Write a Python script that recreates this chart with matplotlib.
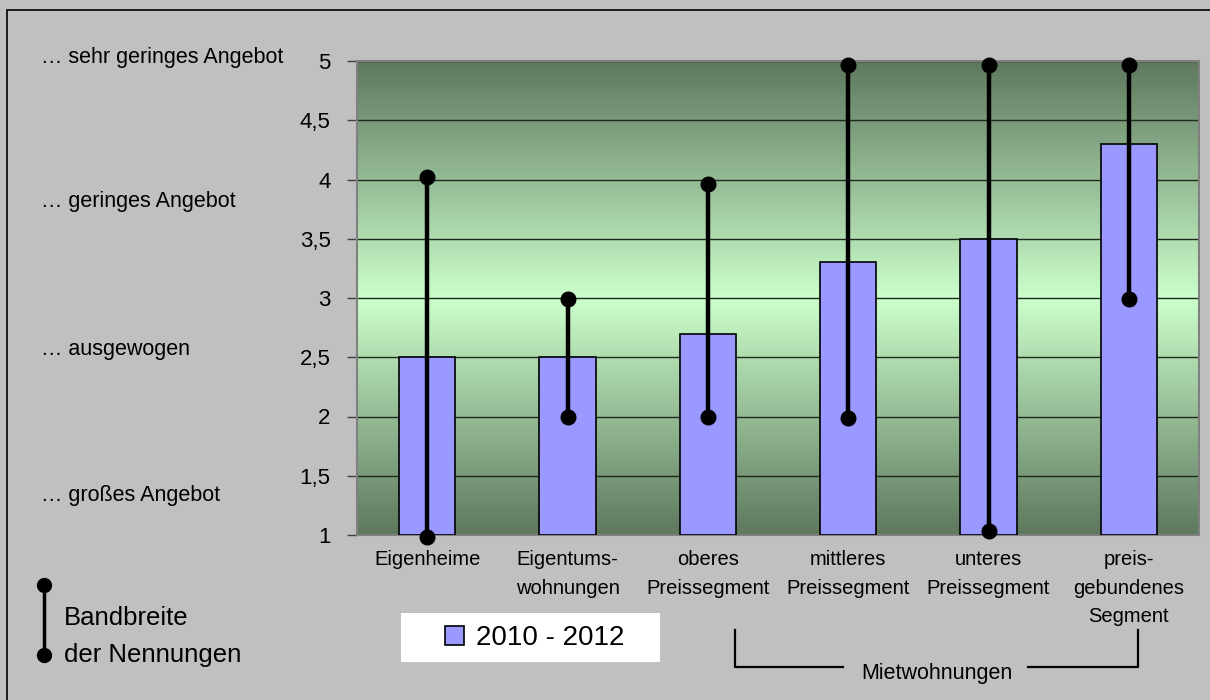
import numpy as np
import matplotlib
matplotlib.use("Agg")
import matplotlib.pyplot as plt
from matplotlib.lines import Line2D
from matplotlib.patches import Rectangle
from matplotlib.colors import LinearSegmentedColormap

plt.rcParams['font.family'] = ['Liberation Sans', 'DejaVu Sans']

# data
categories = ["Eigenheime", "Eigentums-\nwohnungen", "oberes\nPreissegment",
              "mittleres\nPreissegment", "unteres\nPreissegment",
              "preis-\ngebundenes\nSegment"]
mean_2010_2012 = [2.5, 2.5, 2.7, 3.3, 3.5, 4.3]
range_low = [0.98, 2.0, 2.0, 1.99, 1.03, 2.99]
range_high = [4.02, 2.99, 3.96, 4.97, 4.97, 4.97]
y_ticks = [1, 1.5, 2, 2.5, 3, 3.5, 4, 4.5, 5]
y_tick_labels = ["1", "1,5", "2", "2,5", "3", "3,5", "4", "4,5", "5"]
level_labels = ["… sehr geringes Angebot", "… geringes Angebot",
                "… ausgewogen", "… großes Angebot"]

W, H = 1210, 700
BG = "#c0c0c0"
BAR = "#9999ff"


def fx(x):
    return x / W


def fy(y):
    return 1 - y / H


fig = plt.figure(figsize=(W / 100, H / 100), dpi=100, facecolor=BG)

# outer frame
fig.add_artist(Rectangle((fx(7), fy(720)), fx(1230), fy(10) - fy(720),
                         transform=fig.transFigure, fill=False,
                         edgecolor="black", linewidth=1.2))

ax = fig.add_axes([fx(357), fy(535), fx(1199) - fx(357), fy(61) - fy(535)])
ax.set_facecolor(BG)

# green gradient background, dark at top/bottom and light in the middle
cmap = LinearSegmentedColormap.from_list("grn", ["#5e785e", "#ccffcc", "#5e785e"])
grad = np.linspace(0, 1, 256).reshape(-1, 1)
ax.imshow(grad, cmap=cmap, aspect="auto", extent=(-0.5, 5.5, 1, 5),
          origin="lower", zorder=0)

x = np.arange(len(categories))
bars = ax.bar(x, [v - 1 for v in mean_2010_2012], bottom=1, width=0.4,
              color=BAR, edgecolor="black", linewidth=1.2, zorder=3,
              label="2010 - 2012")

for xi, lo, hi in zip(x, range_low, range_high):
    ax.plot([xi, xi], [lo, hi], color="black", linewidth=3.2, zorder=4,
            solid_capstyle="butt")
    ax.plot([xi, xi], [lo, hi], "o", color="black", markersize=10.5,
            zorder=5, clip_on=False)

ax.set_xlim(-0.5, 5.5)
ax.set_ylim(1, 5)
ax.set_yticks(y_ticks)
ax.set_yticklabels(y_tick_labels, fontsize=16)
ax.yaxis.grid(True, color="#1e2a1e", linewidth=1.0)
for gl in ax.get_ygridlines():
    gl.set_zorder(1)
ax.tick_params(axis="y", length=7, width=1, color="#404040", pad=12)
ax.set_xticks(x)
ax.set_xticklabels(categories, fontsize=14.5, linespacing=1.62)
ax.tick_params(axis="x", length=0, pad=11)
for side in ["top", "right", "bottom", "left"]:
    ax.spines[side].set_color("#808080")
    ax.spines[side].set_linewidth(1.5)

# level descriptions left of the axis
for lab, yy in zip(level_labels, [57, 202, 350, 495]):
    fig.text(fx(41), fy(yy), lab, fontsize=15.5, ha="left", va="center")

# key for the range whiskers
fig.add_artist(Line2D([fx(44), fx(44)], [fy(585), fy(655)], color="black",
                      linewidth=2.5, transform=fig.transFigure))
fig.add_artist(Line2D([fx(44), fx(44)], [fy(585), fy(655)], color="black",
                      linestyle="none", marker="o", markersize=10,
                      transform=fig.transFigure))
fig.text(fx(64), fy(618), "Bandbreite", fontsize=18.5, ha="left", va="center")
fig.text(fx(64), fy(655), "der Nennungen", fontsize=18.5, ha="left", va="center")

# legend on a white box
fig.add_artist(Rectangle((fx(401), fy(662)), fx(660) - fx(401), fy(613) - fy(662),
                         transform=fig.transFigure, facecolor="white",
                         edgecolor="none", zorder=1))
leg = fig.legend(loc="center left", bbox_to_anchor=(fx(445), fy(638)),
                 fontsize=20, frameon=False, handlelength=0.7,
                 handleheight=0.7, handletextpad=0.4, borderpad=0,
                 borderaxespad=0)
leg.set_zorder(2)

# bracket for Mietwohnungen
lw = 1.6
fig.add_artist(Line2D([fx(735), fx(735), fx(843)], [fy(630), fy(667), fy(667)],
                      color="black", linewidth=lw, transform=fig.transFigure))
fig.add_artist(Line2D([fx(1028), fx(1138), fx(1138)], [fy(667), fy(667), fy(630)],
                      color="black", linewidth=lw, transform=fig.transFigure))
fig.text(fx(937), fy(674), "Mietwohnungen", fontsize=15.5, ha="center", va="center")

fig.savefig("out.png", dpi=100, facecolor=BG)
